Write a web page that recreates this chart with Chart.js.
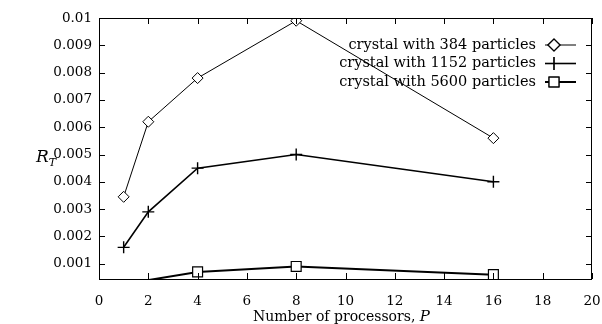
<!DOCTYPE html>
<html>
<head>
<meta charset="utf-8">
<script src="https://cdn.jsdelivr.net/npm/chart.js@4.4.1/dist/chart.umd.min.js"></script>
<style>
  html, body { margin: 0; padding: 0; background: #fff; }
  #wrap { width: 602px; height: 324px; }
</style>
</head>
<body>
<div id="wrap"><canvas id="chart"></canvas></div>
<script>
// -------- datos --------
const procs = [1, 2, 4, 8, 16];
const r384 = [0.00345, 0.0062, 0.0078, 0.0099, 0.0056];
const r1152 = [0.0016, 0.0029, 0.0045, 0.005, 0.004];
const r5600 = [null, 0.0004, 0.0007, 0.0009, 0.0006];
const seriesLabels = ["crystal with 384 particles", "crystal with 1152 particles", "crystal with 5600 particles"];
const xTicks = [0, 2, 4, 6, 8, 10, 12, 14, 16, 18, 20];
const yTicks = [0.001, 0.002, 0.003, 0.004, 0.005, 0.006, 0.007, 0.008, 0.009, 0.01];
const yTickLabels = ["0.001", "0.002", "0.003", "0.004", "0.005", "0.006", "0.007", "0.008", "0.009", "0.01"];
const yMin = 0.00044, yMax = 0.01;

const SERIF = "'DejaVu Serif', 'Liberation Serif', serif";

function pts(vals) {
  return procs.map((p, i) => ({ x: p, y: vals[i] }));
}

// marco, ticks hacia dentro, leyenda y títulos
const decor = {
  id: "decor",
  afterDraw(chart) {
    const { ctx, chartArea: a, scales } = chart;
    const xs = scales.x, ys = scales.y;
    ctx.save();
    ctx.strokeStyle = "#000";
    ctx.lineWidth = 1;
    ctx.strokeRect(a.left + 0.5, a.top + 0.5, a.right - a.left - 1, a.bottom - a.top);
    const tl = 6;
    ctx.beginPath();
    xTicks.forEach(v => {
      const px = Math.round(xs.getPixelForValue(v)) + 0.5;
      ctx.moveTo(px, a.bottom); ctx.lineTo(px, a.bottom - tl);
      ctx.moveTo(px, a.top); ctx.lineTo(px, a.top + tl);
    });
    yTicks.forEach(v => {
      const py = Math.round(ys.getPixelForValue(v)) + 0.5;
      ctx.moveTo(a.left, py); ctx.lineTo(a.left + tl, py);
      ctx.moveTo(a.right, py); ctx.lineTo(a.right - tl, py);
    });
    ctx.stroke();

    // leyenda
    ctx.font = "14.5px " + SERIF;
    ctx.fillStyle = "#000";
    ctx.textAlign = "right";
    ctx.textBaseline = "middle";
    chart.data.datasets.forEach((ds, i) => {
      const y = 45 + i * 18.5;
      ctx.fillText(ds.label, 536, y);
      ctx.lineWidth = ds.borderWidth;
      ctx.beginPath();
      ctx.moveTo(545, y); ctx.lineTo(576, y);
      ctx.stroke();
      ctx.lineWidth = 1.2;
      Chart.helpers.drawPoint(ctx, {
        pointStyle: ds.pointStyle, radius: ds.legendRadius, rotation: 0, borderWidth: 1
      }, 554, y);
      ctx.fillStyle = "#fff";
      if (ds.pointStyle !== "cross") ctx.fill();
      ctx.stroke();
      ctx.fillStyle = "#000";
    });

    // títulos
    ctx.textAlign = "left";
    ctx.textBaseline = "alphabetic";
    ctx.font = "italic 17px " + SERIF;
    ctx.fillText("R", 36, 162);
    const rw = ctx.measureText("R").width;
    ctx.font = "italic 11px " + SERIF;
    ctx.fillText("T", 36 + rw, 166);

    ctx.font = "14px " + SERIF;
    const t = "Number of processors, ";
    ctx.fillText(t, 253, 321);
    const tw = ctx.measureText(t).width;
    ctx.font = "italic 15px " + SERIF;
    ctx.fillText("P", 253 + tw, 321);
    ctx.restore();
  }
};

const hideOut = c => (c.raw && c.raw.y < yMin ? 0 : undefined);

new Chart(document.getElementById("chart"), {
  type: "line",
  data: {
    datasets: [
      {
        label: seriesLabels[0], data: pts(r384),
        borderColor: "#000", backgroundColor: "#fff", borderWidth: 1,
        pointStyle: "rectRot", pointRadius: 5.5, legendRadius: 6, pointBorderWidth: 1
      },
      {
        label: seriesLabels[1], data: pts(r1152),
        borderColor: "#000", backgroundColor: "#fff", borderWidth: 1.6,
        pointStyle: "cross", pointRadius: 6, legendRadius: 6.5, pointBorderWidth: 1.4
      },
      {
        label: seriesLabels[2], data: pts(r5600),
        borderColor: "#000", backgroundColor: "#fff", borderWidth: 2,
        pointStyle: "rect", legendRadius: 7, pointBorderWidth: 1.2,
        pointRadius: c => (hideOut(c) === 0 ? 0 : 7)
      }
    ]
  },
  options: {
    responsive: true,
    maintainAspectRatio: false,
    animation: false,
    layout: { padding: { top: 18, right: 10, left: 0, bottom: 0 } },
    plugins: { legend: { display: false }, tooltip: { enabled: false } },
    elements: { line: { tension: 0 } },
    scales: {
      x: {
        type: "linear", min: 0, max: 20,
        afterBuildTicks: s => { s.ticks = xTicks.map(v => ({ value: v })); },
        afterFit: s => { s.height = 45; s.paddingLeft = 0; s.paddingRight = 0; },
        grid: { display: false, drawTicks: false },
        border: { display: false },
        ticks: { color: "#000", padding: 14, font: { family: SERIF, size: 13.5 } }
      },
      y: {
        type: "linear", min: yMin, max: yMax,
        afterBuildTicks: s => { s.ticks = yTicks.map(v => ({ value: v })); },
        afterFit: s => { s.width = 99; s.paddingTop = 0; s.paddingBottom = 0; },
        grid: { display: false, drawTicks: false },
        border: { display: false },
        ticks: {
          color: "#000", padding: 7, font: { family: SERIF, size: 13.5 },
          callback: (v, i) => yTickLabels[i]
        }
      }
    }
  },
  plugins: [decor]
});
</script>
</body>
</html>
